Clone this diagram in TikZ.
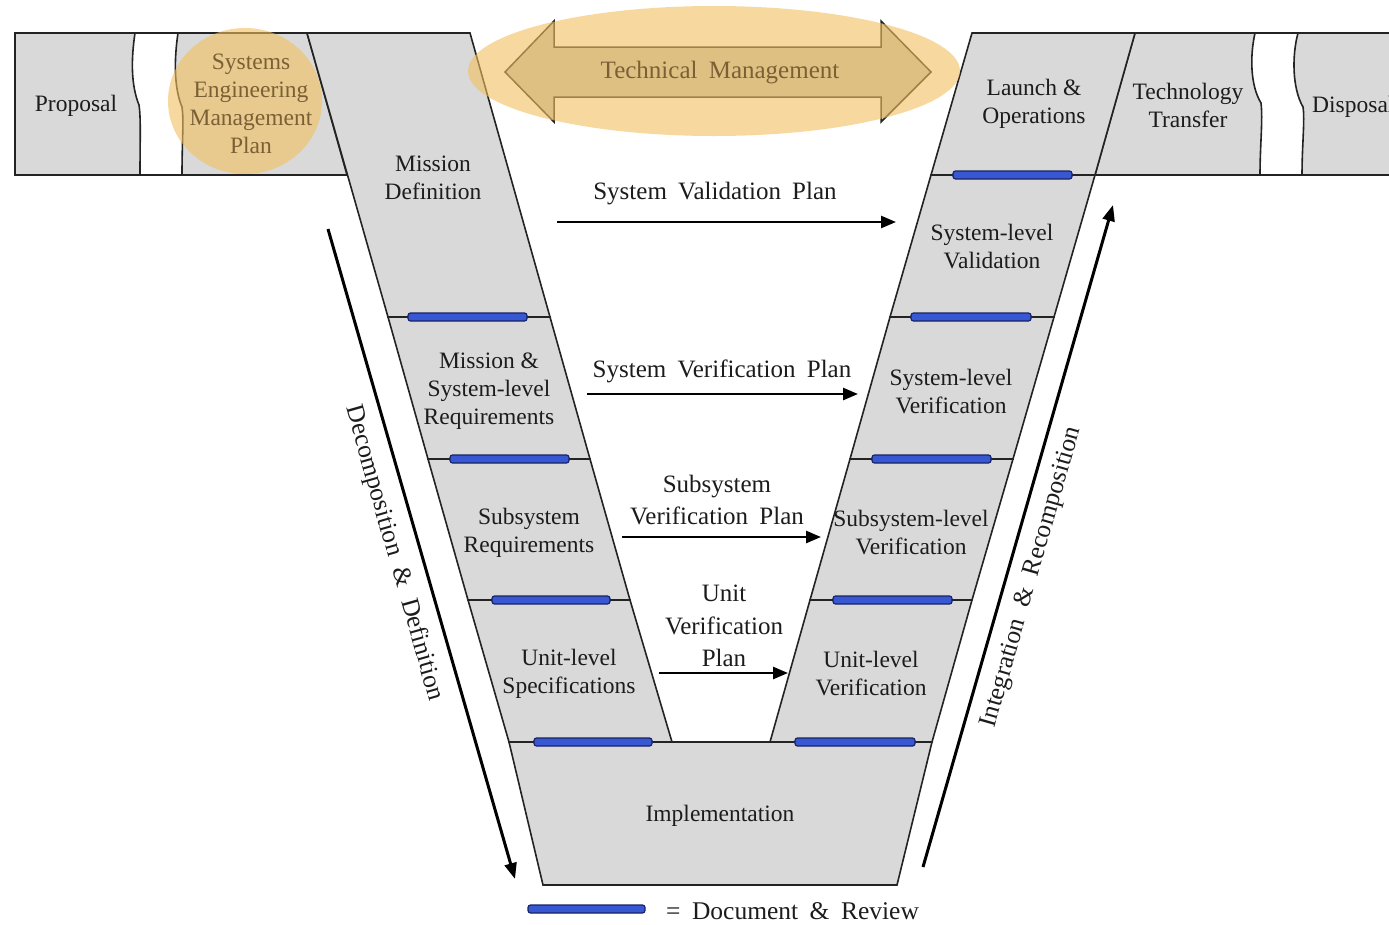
\documentclass[tikz,border=0pt]{standalone}
\usepackage{fontspec}
\setmainfont{Liberation Serif}
\usetikzlibrary{arrows.meta}
\definecolor{cellgray}{RGB}{217,217,217}
\definecolor{edge}{RGB}{35,35,35}
\definecolor{barfill}{RGB}{55,88,210}
\definecolor{bardraw}{RGB}{25,35,100}
\definecolor{hilite}{RGB}{242,192,95}
\definecolor{txt}{RGB}{28,28,28}
\definecolor{browntxt}{RGB}{122,96,52}
\definecolor{arrowgray}{RGB}{196,192,186}
\newcommand\planfont{\fontsize{25}{32.5}\selectfont\spaceskip=0.45em\relax}
\newcommand\sidefont{\fontsize{25.5}{30}\selectfont\spaceskip=0.5em\relax}
\newcommand\legendfont{\fontsize{25.5}{30}\selectfont\spaceskip=0.45em\relax}
\begin{document}
\begin{tikzpicture}[x=1pt,y=-1pt,
  cell/.style={fill=cellgray, draw=edge, line width=1.6pt, line join=miter},
  wave/.style={draw=edge, line width=1.6pt},
  boxlabel/.style={text=txt, align=center, inner sep=0pt,
    font=\fontsize{23.5}{28}\selectfont},
  planlabel/.style={text=txt, align=center, inner sep=0pt, font=\planfont},
  sidelabel/.style={text=txt, inner sep=0pt, font=\sidefont},
  docbar/.style={fill=barfill, draw=bardraw, line width=1.2pt, rounded corners=2.5pt},
  flow/.style={draw=black, line width=2.6pt, -{Triangle[length=15pt,width=12pt]}},
  longflow/.style={draw=black, line width=3pt, -{Triangle[length=16pt,width=12pt]}},
  overlay/.style={fill=hilite, fill opacity=0.6, draw=none}
]
\useasboundingbox (0,0) rectangle (1389,924);
\clip (0,0) rectangle (1389,924);

% ---------- top-left bar ----------
\path[cell] (15,33) -- (307,33) -- (347,175) -- (15,175) -- cycle;
\fill[white] (135,33) .. controls (131,60) and (131,85) .. (139,105)
   .. controls (141,118) and (140,140) .. (140,175) -- (182,175)
   .. controls (182,140) and (184,120) .. (182,107)
   .. controls (174,88) and (174,60) .. (178,33) -- cycle;
\draw[wave] (135,33) .. controls (131,60) and (131,85) .. (139,105)
   .. controls (141,118) and (140,140) .. (140,175);
\draw[wave] (178,33) .. controls (174,60) and (174,88) .. (182,107)
   .. controls (184,120) and (182,140) .. (182,175);
\draw[edge, line width=1.6pt] (135,33) -- (178,33) (140,175) -- (182,175);

% ---------- top-right bar ----------
\path[cell] (1135,33) -- (1400,33) -- (1400,175) -- (1095,175) -- cycle;
\fill[white] (1255,33) .. controls (1250,55) and (1250,85) .. (1261,103)
   .. controls (1263,120) and (1260,145) .. (1260,175) -- (1302,175)
   .. controls (1302,145) and (1305,120) .. (1303,107)
   .. controls (1292,88) and (1292,55) .. (1298,33) -- cycle;
\draw[wave] (1255,33) .. controls (1250,55) and (1250,85) .. (1261,103)
   .. controls (1263,120) and (1260,145) .. (1260,175);
\draw[wave] (1298,33) .. controls (1292,55) and (1292,88) .. (1303,107)
   .. controls (1305,120) and (1302,145) .. (1302,175);
\draw[edge, line width=1.6pt] (1255,33) -- (1298,33) (1260,175) -- (1302,175);

% ---------- left arm ----------
\path[cell] (307,33) -- (470,33) -- (550,317) -- (388,317) -- cycle;
\path[cell] (388,317) -- (550,317) -- (590,459) -- (428,459) -- cycle;
\path[cell] (428,459) -- (590,459) -- (630,600) -- (468,600) -- cycle;
\path[cell] (468,600) -- (630,600) -- (672,742) -- (509,742) -- cycle;
% ---------- right arm ----------
\path[cell] (972,33) -- (1135,33) -- (1095,175) -- (931,175) -- cycle;
\path[cell] (931,175) -- (1095,175) -- (1054,317) -- (890,317) -- cycle;
\path[cell] (890,317) -- (1054,317) -- (1013,459) -- (850,459) -- cycle;
\path[cell] (850,459) -- (1013,459) -- (972,600) -- (810,600) -- cycle;
\path[cell] (810,600) -- (972,600) -- (932,742) -- (770,742) -- cycle;
% ---------- bottom ----------
\path[cell] (509,742) -- (932,742) -- (897,885) -- (543,885) -- cycle;

% ---------- document & review bars ----------
\path[docbar] (408,313) rectangle (527,321);
\path[docbar] (450,455) rectangle (569,463);
\path[docbar] (492,596) rectangle (610,604);
\path[docbar] (534,738) rectangle (652,746);
\path[docbar] (953,171) rectangle (1072,179);
\path[docbar] (911,313) rectangle (1031,321);
\path[docbar] (872,455) rectangle (991,463);
\path[docbar] (833,596) rectangle (952,604);
\path[docbar] (795,738) rectangle (915,746);
\path[docbar] (528,905) rectangle (645,913);

% ---------- box labels ----------
\node[boxlabel] (proposal) at (76,106) {Proposal};
\node[boxlabel] (missiondef) at (433,178) {Mission\\Definition};
\node[boxlabel] (msreq) at (489,391) {Mission \&\\System-level\\Requirements};
\node[boxlabel] (subreq) at (529,533) {Subsystem\\Requirements};
\node[boxlabel] (unitspec) at (569,674) {Unit-level\\Specifications};
\node[boxlabel] (impl) at (720,816) {Implementation};
\node[boxlabel] (launch) at (1034,104) {Launch \&\\Operations};
\node[boxlabel] (techtr) at (1188,105) {Technology\\Transfer};
\node[boxlabel, anchor=west] (disposal) at (1312,107) {Disposal};
\node[boxlabel] (sysval) at (992,247) {System-level\\Validation};
\node[boxlabel] (sysver) at (951,392) {System-level\\Verification};
\node[boxlabel] (subver) at (911,533) {Subsystem-level\\Verification};
\node[boxlabel] (unitver) at (871,674) {Unit-level\\Verification};

% ---------- technical management arrow ----------
\path[fill=arrowgray, draw=edge, line width=1.5pt, line join=miter]
  (505,72) -- (554,21) -- (554,47) -- (881,47) -- (881,21) -- (931,72)
  -- (881,122) -- (881,97) -- (554,97) -- (554,122) -- cycle;

% ---------- highlights ----------
\path[overlay] (245,101) ellipse [x radius=77, y radius=73];
\path[overlay] (714,71) ellipse [x radius=246, y radius=65];
\node[boxlabel, text=browntxt] (semp) at (251,104) {Systems\\Engineering\\Management\\Plan};
\node[planlabel, text=browntxt] (techmgmt) at (720,73) {Technical Management};

% ---------- plan arrows ----------
\coordinate (valA) at (557,222);  \coordinate (valB) at (896,222);
\coordinate (verA) at (587,394);  \coordinate (verB) at (858,394);
\coordinate (subA) at (622,537);  \coordinate (subB) at (821,537);
\coordinate (unitA) at (659,673); \coordinate (unitB) at (788,673);
\draw[flow] (valA) -- (valB);
\draw[flow] (verA) -- (verB);
\draw[flow] (subA) -- (subB);
\draw[flow] (unitA) -- (unitB);
\node[planlabel] (vallabel) at (715,194) {System Validation Plan};
\node[planlabel] (verlabel) at (722,371) {System Verification Plan};
\node[planlabel] (sublabel) at (717,500) {Subsystem\\Verification Plan};
\node[planlabel] (unitlabel) at (724,626) {Unit\\Verification\\Plan};

% ---------- side arrows ----------
\coordinate (decA) at (328,229); \coordinate (decB) at (515,879);
\coordinate (intA) at (923,867); \coordinate (intB) at (1113,205);
\draw[longflow] (decA) -- (decB);
\draw[longflow] (intA) -- (intB);
\node[sidelabel, rotate=-74.1] (declabel) at (394,553) {Decomposition \& Definition};
\node[sidelabel, rotate=74] (intlabel) at (1032,577) {Integration \& Recomposition};

% ---------- legend ----------
\node[text=txt, inner sep=0pt, font=\legendfont, anchor=west]
  (legend) at (666,911) {= Document \& Review};
\end{tikzpicture}
\end{document}
